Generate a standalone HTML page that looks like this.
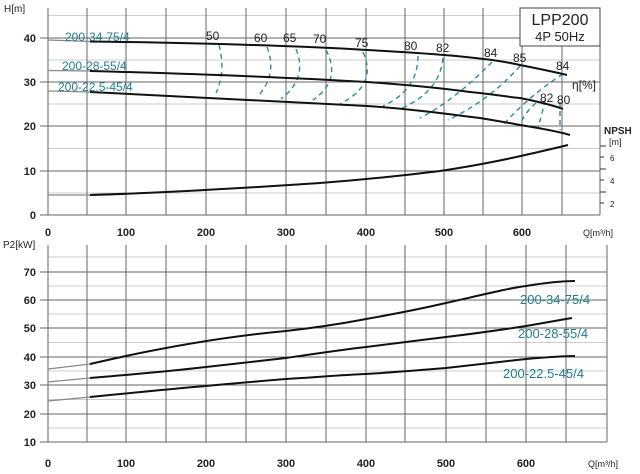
<!DOCTYPE html>
<html><head><meta charset="utf-8"><style>
html,body{margin:0;padding:0;background:#fff;}
svg{display:block;font-family:"Liberation Sans",sans-serif;}
</style></head><body>
<svg width="640" height="474" viewBox="0 0 640 474" xmlns="http://www.w3.org/2000/svg">
<g stroke="#bbb" stroke-width="0.8">
<line x1="48" x2="600" y1="193" y2="193"/><line x1="48" x2="600" y1="148.5" y2="148.5"/>
<line x1="48" x2="600" y1="104" y2="104"/><line x1="48" x2="600" y1="60" y2="60"/><line x1="48" x2="600" y1="15.5" y2="15.5"/>
<line x1="48" x2="607" y1="428" y2="428"/><line x1="48" x2="607" y1="399.5" y2="399.5"/><line x1="48" x2="607" y1="371" y2="371"/>
<line x1="48" x2="607" y1="342.5" y2="342.5"/><line x1="48" x2="607" y1="314" y2="314"/><line x1="48" x2="607" y1="286" y2="286"/><line x1="48" x2="607" y1="257" y2="257"/>
</g>
<g stroke="#666" stroke-width="1">
<line x1="87" x2="87" y1="8" y2="215"/><line x1="126" x2="126" y1="8" y2="215"/><line x1="166" x2="166" y1="8" y2="215"/>
<line x1="206" x2="206" y1="8" y2="215"/><line x1="246" x2="246" y1="8" y2="215"/><line x1="286" x2="286" y1="8" y2="215"/>
<line x1="326" x2="326" y1="8" y2="215"/><line x1="366" x2="366" y1="8" y2="215"/><line x1="405" x2="405" y1="8" y2="215"/>
<line x1="444" x2="444" y1="8" y2="215"/><line x1="483" x2="483" y1="8" y2="215"/><line x1="522" x2="522" y1="8" y2="215"/>
<line x1="562" x2="562" y1="8" y2="215"/><line x1="600" x2="600" y1="8" y2="215"/>
<line x1="48" x2="48" y1="8" y2="215"/>
<line x1="40" x2="600" y1="215" y2="215"/><line x1="40" x2="600" y1="171" y2="171"/><line x1="40" x2="600" y1="126" y2="126"/>
<line x1="40" x2="600" y1="82" y2="82"/><line x1="40" x2="600" y1="38" y2="38"/>
<line x1="87" x2="87" y1="245" y2="442"/><line x1="126" x2="126" y1="245" y2="442"/><line x1="166" x2="166" y1="245" y2="442"/>
<line x1="206" x2="206" y1="245" y2="442"/><line x1="246" x2="246" y1="245" y2="442"/><line x1="286" x2="286" y1="245" y2="442"/>
<line x1="326" x2="326" y1="245" y2="442"/><line x1="366" x2="366" y1="245" y2="442"/><line x1="405" x2="405" y1="245" y2="442"/>
<line x1="446" x2="446" y1="245" y2="442"/><line x1="486" x2="486" y1="245" y2="442"/><line x1="526" x2="526" y1="245" y2="442"/>
<line x1="566" x2="566" y1="245" y2="442"/><line x1="607" x2="607" y1="245" y2="442"/>
<line x1="48" x2="48" y1="245" y2="442"/>
<line x1="40" x2="607" y1="442" y2="442"/><line x1="40" x2="607" y1="414" y2="414"/><line x1="40" x2="607" y1="385" y2="385"/>
<line x1="40" x2="607" y1="357" y2="357"/><line x1="40" x2="607" y1="328" y2="328"/><line x1="40" x2="607" y1="300" y2="300"/><line x1="40" x2="607" y1="272" y2="272"/>
</g>
<g stroke="#333" stroke-width="1"><line x1="600" x2="606" y1="146" y2="146"/><line x1="600" x2="604" y1="157" y2="157"/><line x1="600" x2="606" y1="169" y2="169"/><line x1="600" x2="604" y1="180" y2="180"/><line x1="600" x2="606" y1="192" y2="192"/><line x1="600" x2="604" y1="203" y2="203"/></g>
<rect x="520" y="8" width="80" height="38" fill="#fff" stroke="#444" stroke-width="1"/>
<text x="560" y="25" font-size="16" text-anchor="middle" fill="#222">LPP200</text>
<text x="560" y="41" font-size="13" text-anchor="middle" fill="#222">4P  50Hz</text>
<g fill="none" stroke="#2e8c9a" stroke-width="1.4" stroke-dasharray="5,4">
<path d="M219,45 Q226,72 216,93"/><path d="M267,47 Q278,75 257,97"/><path d="M296,49 Q308,78 281,99"/>
<path d="M326,50 Q342,80 313,100"/><path d="M363,52 Q378,85 340,104"/><path d="M418,56 Q418,90 383,106"/>
<path d="M443,58 Q440,92 400,109"/><path d="M492,62 Q455,100 420,118"/><path d="M520,66 Q490,100 448,120"/>
<path d="M563,74 Q530,95 503,125"/><path d="M545,100 Q542,115 538,127"/><path d="M560,102 L560,130"/>
<path d="M536,103 Q525,112 520,125"/>
</g>
<g fill="none" stroke="#111" stroke-width="2">
<path d="M90,41.5 C200,43 300,46 367,50 C440,54 490,58 520,65 C540,69 555,72 567,75"/>
<path d="M90,71 C200,74 300,78 367,82 C410,85 440,88 470,92 C500,95 515,98 520,98 C540,102 555,106 563,109"/>
<path d="M90,92 C200,97 300,102 367,106 C410,109 440,113 480,118 C510,123 520,125 520,125 C545,129 560,132 570,135"/>
<path d="M90,195 C160,193 230,189 320,183 C360,180 400,176 440,171 C480,165 510,159 568,145"/>
</g>
<g fill="none" stroke="#888" stroke-width="1.2">
<line x1="48" y1="40" x2="90" y2="41.5"/><line x1="48" y1="70.5" x2="90" y2="71"/><line x1="48" y1="91" x2="90" y2="92"/><line x1="48" y1="195" x2="90" y2="195"/>
<line x1="48" y1="369" x2="90" y2="364"/><line x1="48" y1="382" x2="90" y2="378"/><line x1="48" y1="401" x2="90" y2="397"/>
</g>
<g fill="none" stroke="#111" stroke-width="2">
<path d="M90,364 C150,350 220,337 286,331 C330,326 350,322 366,319 C400,313 420,309 446,303 C490,293 510,288 526,286 C550,282 565,281 575,281"/>
<path d="M90,378 C150,373 180,370 206,367 C240,363 260,361 286,358 C320,353 340,350 366,347 C400,343 420,340 446,337 C480,333 500,330 526,326 C550,322 565,319 572,318"/>
<path d="M90,397 C150,391 180,388 206,386 C240,383 260,381 286,379 C320,377 340,375 366,374 C400,372 420,370 446,368 C480,364 500,362 526,359 C550,357 565,356 575,356"/>
</g>
<g fill="#222" font-size="11" font-weight="bold">
<text x="4" y="12" font-weight="normal" font-size="10">H[m]</text>
<text x="36" y="42" text-anchor="end">40</text><text x="36" y="86" text-anchor="end">30</text>
<text x="36" y="130" text-anchor="end">20</text><text x="36" y="175" text-anchor="end">10</text><text x="36" y="219" text-anchor="end">0</text>
<g text-anchor="middle">
<text x="48" y="236">0</text><text x="126" y="236">100</text><text x="206" y="236">200</text><text x="286" y="236">300</text><text x="366" y="236">400</text><text x="444" y="236">500</text><text x="522" y="236">600</text>
<text x="48" y="467">0</text><text x="126" y="467">100</text><text x="206" y="467">200</text><text x="286" y="467">300</text><text x="366" y="467">400</text><text x="446" y="467">500</text><text x="526" y="467">600</text>
</g>
<text x="583" y="236" font-size="9" font-weight="normal">Q[m³/h]</text><text x="588" y="467" font-size="9" font-weight="normal">Q[m³/h]</text>
<text x="3" y="248" font-weight="normal" font-size="10">P2[kW]</text>
<text x="36" y="276" text-anchor="end">70</text><text x="36" y="304" text-anchor="end">60</text><text x="36" y="332" text-anchor="end">50</text>
<text x="36" y="361" text-anchor="end">40</text><text x="36" y="389" text-anchor="end">30</text><text x="36" y="418" text-anchor="end">20</text><text x="36" y="446" text-anchor="end">10</text>
<text x="604" y="134" font-size="10">NPSH</text><text x="609" y="145" font-size="9" font-weight="normal">[m]</text>
<text x="610" y="161" font-size="8" font-weight="normal">6</text><text x="610" y="184" font-size="8" font-weight="normal">4</text><text x="610" y="207" font-size="8" font-weight="normal">2</text>
<g font-size="12" font-weight="normal">
<text x="206" y="40">50</text><text x="254" y="42">60</text><text x="283" y="42">65</text><text x="313" y="43">70</text><text x="355" y="47">75</text>
<text x="404" y="50">80</text><text x="436" y="52">82</text><text x="484" y="57">84</text><text x="513" y="62">85</text><text x="556" y="70">84</text>
<text x="540" y="102">82</text><text x="557" y="104">80</text><text x="572" y="89">η[%]</text>
</g>
</g>
<g fill="#1f7f8f" font-size="12">
<text x="65" y="41">200-34-75/4</text><text x="62" y="70">200-28-55/4</text><text x="58" y="91">200-22.5-45/4</text>
<text x="520" y="304" font-size="13">200-34-75/4</text><text x="518" y="338" font-size="13">200-28-55/4</text><text x="503" y="378" font-size="13">200-22.5-45/4</text>
</g>
</svg>
</body></html>
